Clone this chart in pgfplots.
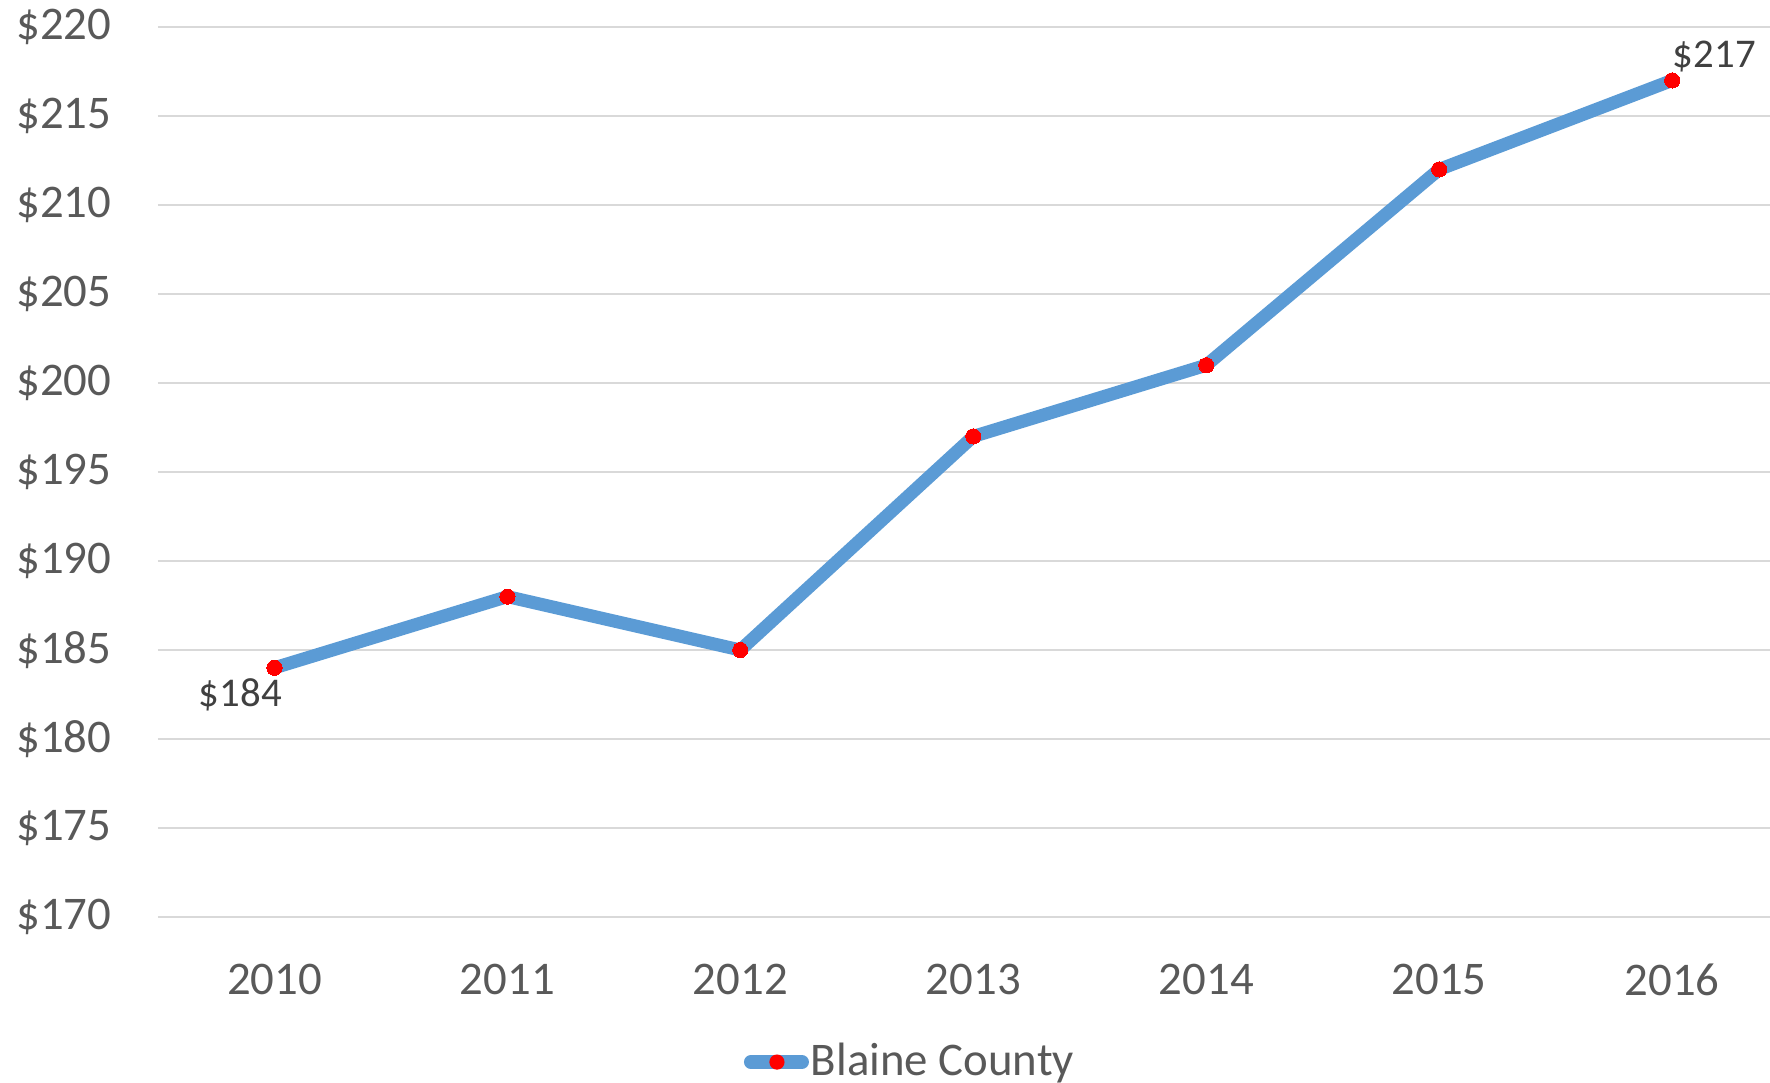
\documentclass[border=0pt]{standalone}
\usepackage{fontspec}
\setmainfont{Carlito}
\usepackage{pgfplots}
\pgfplotsset{compat=1.18}
\definecolor{lineblue}{HTML}{5B9BD5}
\definecolor{gridgray}{HTML}{D9D9D9}
\definecolor{ticktext}{HTML}{595959}
\definecolor{labeltext}{HTML}{404040}

\begin{document}
\begin{tikzpicture}
% fixed page size, 1px = 0.25pt
\path[use as bounding box] (-39.5pt,-41.5pt) rectangle (403pt,229.25pt);
\begin{axis}[
  at={(0pt,0pt)}, anchor=south west,
  scale only axis,
  width=403pt, height=222.5pt,
  xmin=-0.5, xmax=6.42,
  ymin=170, ymax=220,
  ytick={170,175,...,220},
  xtick={0,...,6},
  xticklabels={2010,2011,2012,2013,2014,2015,2016},
  yticklabel={\$\pgfmathprintnumber{\tick}},
  /pgf/number format/assume math mode=true,
  ymajorgrids,
  grid style={gridgray, line width=0.5pt},
  axis line style={draw=none},
  tick style={draw=none},
  major tick length=0pt,
  yticklabel style={font=\fontsize{11.7}{14}\selectfont, text=ticktext, anchor=east, inner sep=0pt, xshift=-11.5pt},
  xticklabel style={font=\fontsize{11.7}{14}\selectfont, text=ticktext, anchor=north, inner sep=0pt, yshift=-11.5pt},
  legend style={at={(rel axis cs:0.363,-0.163)}, anchor=west, draw=none, fill=none,
    inner sep=0pt, font=\fontsize{11.7}{14}\selectfont, text=ticktext,
    nodes={inner sep=0.5pt}},
  legend image code/.code={
    \draw[lineblue, line width=3.5pt, line cap=round] (1.75pt,0pt) -- (14.5pt,0pt);
    \path[fill=red, draw=none, line width=0pt] (8.25pt,0pt) circle (1.9pt);
  },
  clip=false,
]
\addplot[lineblue, line width=3.25pt, mark=*, mark size=1.9pt,
  mark options={fill=red, draw=red, line width=0pt}]
  coordinates {(0,184) (1,188) (2,185) (3,197) (4,201) (5,212) (6,217)};
\addlegendentry{Blaine County}
\node[anchor=north east, inner sep=0pt, font=\fontsize{10.2}{12}\selectfont, text=labeltext,
  xshift=2pt, yshift=-2.5pt] at (axis cs:0,184) {\$184};
\node[anchor=base west, inner sep=0pt, font=\fontsize{10.2}{12}\selectfont, text=labeltext,
  yshift=3.25pt] at (axis cs:6,217) {\$217};
\end{axis}
\end{tikzpicture}
\end{document}
